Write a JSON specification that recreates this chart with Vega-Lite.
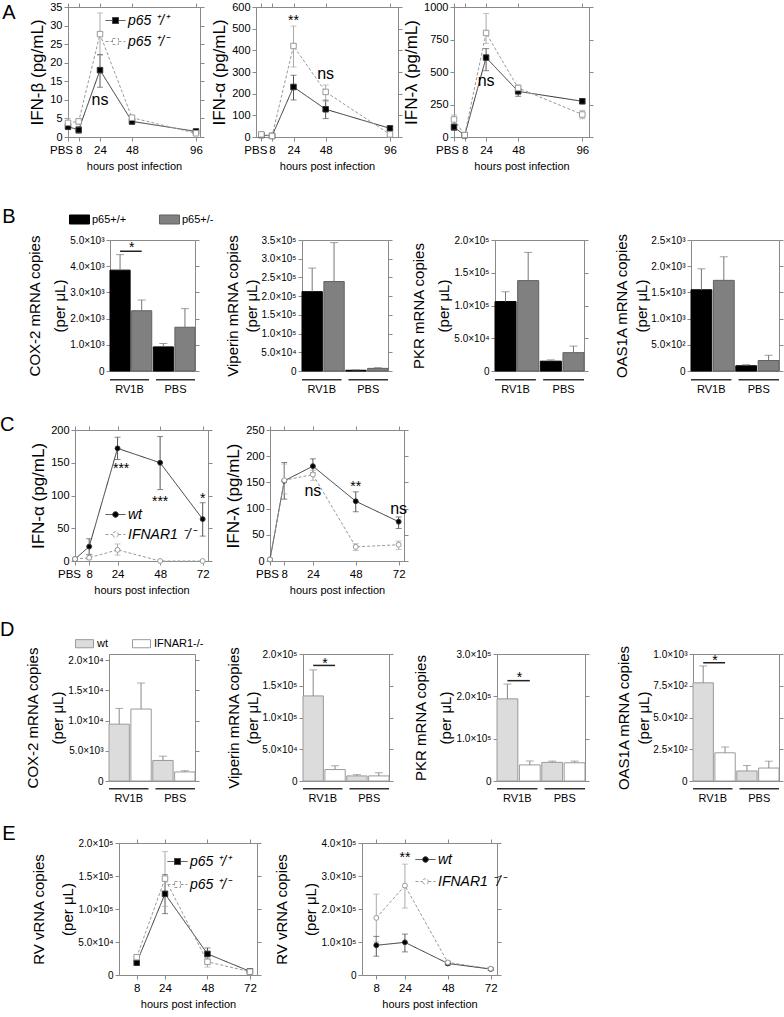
{
"$schema": "https://vega.github.io/schema/vega-lite/v6.json",
"padding": {"left": 0, "top": 0, "right": 0, "bottom": 0},
"background": "white",
"config": {
  "font": "Liberation Sans",
  "view": {"stroke": "#8a8a8a", "strokeWidth": 1},
  "axis": {"domainColor": "#8a8a8a", "tickColor": "#8a8a8a", "tickSize": 4, "labelColor": "#000000", "titleColor": "#000000", "labelFont": "Liberation Sans", "titleFont": "Liberation Sans", "titleFontWeight": "normal", "grid": false, "labelFlush": false, "labelOverlap": false, "labelPadding": 2},
  "axisX": {"labelFontSize": 11.5, "titleFontSize": 11, "titlePadding": 5, "labelPadding": 3},
  "axisY": {"labelFontSize": 11, "titleFontSize": 17, "titlePadding": 3},
  "legend": {"labelFont": "Liberation Sans", "labelColor": "#000000", "padding": 0},
  "title": {"font": "Liberation Sans", "fontWeight": "normal", "fontSize": 20, "color": "#000000"},
  "text": {"font": "Liberation Sans"}
},
"datasets": {
  "none": [{"k": 0}],
  "grp": [{"cond": "RV1B"}, {"cond": "PBS"}],
  "a1": [
    {"h": 0, "g": "p65 ⁺/⁺", "v": 2.8, "lo": 2.0, "hi": 3.6},
    {"h": 8, "g": "p65 ⁺/⁺", "v": 1.9, "lo": 1.0, "hi": 2.8},
    {"h": 24, "g": "p65 ⁺/⁺", "v": 18.0, "lo": 13.4, "hi": 22.2},
    {"h": 48, "g": "p65 ⁺/⁺", "v": 4.2, "lo": 3.4, "hi": 5.0},
    {"h": 96, "g": "p65 ⁺/⁺", "v": 1.5, "lo": 1.2, "hi": 1.8},
    {"h": 0, "g": "p65 ⁺/⁻", "v": 3.8, "lo": 2.5, "hi": 5.0},
    {"h": 8, "g": "p65 ⁺/⁻", "v": 4.2, "lo": 3.4, "hi": 5.0},
    {"h": 24, "g": "p65 ⁺/⁻", "v": 27.7, "lo": 22.0, "hi": 33.4},
    {"h": 48, "g": "p65 ⁺/⁻", "v": 5.2, "lo": 4.6, "hi": 5.8},
    {"h": 96, "g": "p65 ⁺/⁻", "v": 1.0, "lo": 0.7, "hi": 1.3}
  ],
  "a1n": [{"h": 24, "y": 10, "t": "ns"}],
  "a2": [
    {"h": 0, "g": "p65 ⁺/⁺", "v": 9, "lo": 5, "hi": 13},
    {"h": 8, "g": "p65 ⁺/⁺", "v": 5, "lo": 3, "hi": 7},
    {"h": 24, "g": "p65 ⁺/⁺", "v": 231, "lo": 171, "hi": 285},
    {"h": 48, "g": "p65 ⁺/⁺", "v": 128, "lo": 85, "hi": 170},
    {"h": 96, "g": "p65 ⁺/⁺", "v": 40, "lo": 32, "hi": 48},
    {"h": 0, "g": "p65 ⁺/⁻", "v": 12, "lo": 8, "hi": 16},
    {"h": 8, "g": "p65 ⁺/⁻", "v": 5, "lo": 3, "hi": 7},
    {"h": 24, "g": "p65 ⁺/⁻", "v": 420, "lo": 323, "hi": 512},
    {"h": 48, "g": "p65 ⁺/⁻", "v": 208, "lo": 165, "hi": 240},
    {"h": 96, "g": "p65 ⁺/⁻", "v": 12, "lo": 5, "hi": 20}
  ],
  "a2n": [{"h": 24, "y": 536, "t": "**"}, {"h": 48, "y": 290, "t": "ns"}],
  "a3": [
    {"h": 0, "g": "p65 ⁺/⁺", "v": 76, "lo": 50, "hi": 100},
    {"h": 8, "g": "p65 ⁺/⁺", "v": 13, "lo": 8, "hi": 18},
    {"h": 24, "g": "p65 ⁺/⁺", "v": 611, "lo": 510, "hi": 680},
    {"h": 48, "g": "p65 ⁺/⁺", "v": 351, "lo": 313, "hi": 385},
    {"h": 96, "g": "p65 ⁺/⁺", "v": 275, "lo": 255, "hi": 295},
    {"h": 0, "g": "p65 ⁺/⁻", "v": 135, "lo": 100, "hi": 170},
    {"h": 8, "g": "p65 ⁺/⁻", "v": 15, "lo": 10, "hi": 20},
    {"h": 24, "g": "p65 ⁺/⁻", "v": 800, "lo": 720, "hi": 950},
    {"h": 48, "g": "p65 ⁺/⁻", "v": 377, "lo": 350, "hi": 400},
    {"h": 96, "g": "p65 ⁺/⁻", "v": 173, "lo": 140, "hi": 205}
  ],
  "a3n": [{"h": 24, "y": 430, "t": "ns"}],
  "b1": [
    {"cond": "RV1B", "g": "p65+/+", "bar": "RV1B_1", "v": 3850, "hi": 4440},
    {"cond": "RV1B", "g": "p65+/-", "bar": "RV1B_2", "v": 2300, "hi": 2710},
    {"cond": "PBS", "g": "p65+/+", "bar": "PBS_1", "v": 920, "hi": 1050},
    {"cond": "PBS", "g": "p65+/-", "bar": "PBS_2", "v": 1670, "hi": 2380}
  ],
  "b1s": [{"b1": "RV1B_1", "b2": "RV1B_2", "y": 4570, "ys": 4690, "t": "*"}],
  "b2": [
    {"cond": "RV1B", "g": "p65+/+", "bar": "RV1B_1", "v": 212000, "hi": 275000},
    {"cond": "RV1B", "g": "p65+/-", "bar": "RV1B_2", "v": 239000, "hi": 343000},
    {"cond": "PBS", "g": "p65+/+", "bar": "PBS_1", "v": 2000, "hi": 3000},
    {"cond": "PBS", "g": "p65+/-", "bar": "PBS_2", "v": 7000, "hi": 9000}
  ],
  "b3": [
    {"cond": "RV1B", "g": "p65+/+", "bar": "RV1B_1", "v": 106000, "hi": 121000},
    {"cond": "RV1B", "g": "p65+/-", "bar": "RV1B_2", "v": 138000, "hi": 181000},
    {"cond": "PBS", "g": "p65+/+", "bar": "PBS_1", "v": 15000, "hi": 17000},
    {"cond": "PBS", "g": "p65+/-", "bar": "PBS_2", "v": 28000, "hi": 38000}
  ],
  "b4": [
    {"cond": "RV1B", "g": "p65+/+", "bar": "RV1B_1", "v": 1550, "hi": 1950},
    {"cond": "RV1B", "g": "p65+/-", "bar": "RV1B_2", "v": 1730, "hi": 2180},
    {"cond": "PBS", "g": "p65+/+", "bar": "PBS_1", "v": 100, "hi": 120},
    {"cond": "PBS", "g": "p65+/-", "bar": "PBS_2", "v": 200, "hi": 300}
  ],
  "c1": [
    {"h": 0, "g": "wt", "v": 3},
    {"h": 8, "g": "wt", "v": 22, "lo": 10, "hi": 34},
    {"h": 24, "g": "wt", "v": 172, "lo": 155, "hi": 189},
    {"h": 48, "g": "wt", "v": 150, "lo": 109, "hi": 190},
    {"h": 72, "g": "wt", "v": 64, "lo": 38, "hi": 89},
    {"h": 0, "g": "IFNAR1 ⁻/⁻", "v": 3},
    {"h": 8, "g": "IFNAR1 ⁻/⁻", "v": 5, "lo": 2, "hi": 9},
    {"h": 24, "g": "IFNAR1 ⁻/⁻", "v": 17, "lo": 9, "hi": 26},
    {"h": 48, "g": "IFNAR1 ⁻/⁻", "v": 0},
    {"h": 72, "g": "IFNAR1 ⁻/⁻", "v": 0}
  ],
  "c1n": [{"h": 26, "y": 140, "t": "***"}, {"h": 48, "y": 90, "t": "***"}, {"h": 72, "y": 95, "t": "*"}],
  "c2": [
    {"h": 0, "g": "wt", "v": 3},
    {"h": 8, "g": "wt", "v": 153, "lo": 118, "hi": 188},
    {"h": 24, "g": "wt", "v": 181, "lo": 168, "hi": 195},
    {"h": 48, "g": "wt", "v": 114, "lo": 94, "hi": 132},
    {"h": 72, "g": "wt", "v": 75, "lo": 62, "hi": 84},
    {"h": 0, "g": "IFNAR1 ⁻/⁻", "v": 3},
    {"h": 8, "g": "IFNAR1 ⁻/⁻", "v": 154, "lo": 128, "hi": 185},
    {"h": 24, "g": "IFNAR1 ⁻/⁻", "v": 165, "lo": 154, "hi": 173},
    {"h": 48, "g": "IFNAR1 ⁻/⁻", "v": 27, "lo": 20, "hi": 33},
    {"h": 72, "g": "IFNAR1 ⁻/⁻", "v": 31, "lo": 22, "hi": 38}
  ],
  "c2n": [{"h": 24, "y": 134, "t": "ns"}, {"h": 48, "y": 141, "t": "**"}, {"h": 72, "y": 100, "t": "ns"}],
  "d1": [
    {"cond": "RV1B", "g": "wt", "bar": "RV1B_1", "v": 9400, "hi": 12000},
    {"cond": "RV1B", "g": "IFNAR1-/-", "bar": "RV1B_2", "v": 11900, "hi": 16200},
    {"cond": "PBS", "g": "wt", "bar": "PBS_1", "v": 3400, "hi": 4100},
    {"cond": "PBS", "g": "IFNAR1-/-", "bar": "PBS_2", "v": 1500, "hi": 1700}
  ],
  "d2": [
    {"cond": "RV1B", "g": "wt", "bar": "RV1B_1", "v": 134000, "hi": 175000},
    {"cond": "RV1B", "g": "IFNAR1-/-", "bar": "RV1B_2", "v": 18000, "hi": 24000},
    {"cond": "PBS", "g": "wt", "bar": "PBS_1", "v": 8000, "hi": 10000},
    {"cond": "PBS", "g": "IFNAR1-/-", "bar": "PBS_2", "v": 8000, "hi": 13000}
  ],
  "d2s": [{"b1": "RV1B_1", "b2": "RV1B_2", "y": 182000, "ys": 185000, "t": "*"}],
  "d3": [
    {"cond": "RV1B", "g": "wt", "bar": "RV1B_1", "v": 194000, "hi": 229000},
    {"cond": "RV1B", "g": "IFNAR1-/-", "bar": "RV1B_2", "v": 38000, "hi": 47000},
    {"cond": "PBS", "g": "wt", "bar": "PBS_1", "v": 44000, "hi": 47000},
    {"cond": "PBS", "g": "IFNAR1-/-", "bar": "PBS_2", "v": 43000, "hi": 47000}
  ],
  "d3s": [{"b1": "RV1B_1", "b2": "RV1B_2", "y": 237000, "ys": 244000, "t": "*"}],
  "d4": [
    {"cond": "RV1B", "g": "wt", "bar": "RV1B_1", "v": 773, "hi": 906},
    {"cond": "RV1B", "g": "IFNAR1-/-", "bar": "RV1B_2", "v": 222, "hi": 268},
    {"cond": "PBS", "g": "wt", "bar": "PBS_1", "v": 79, "hi": 122},
    {"cond": "PBS", "g": "IFNAR1-/-", "bar": "PBS_2", "v": 102, "hi": 156}
  ],
  "d4s": [{"b1": "RV1B_1", "b2": "RV1B_2", "y": 931, "ys": 941, "t": "*"}],
  "e1": [
    {"h": 8, "g": "p65 ⁺/⁺", "v": 18700, "lo": 14500, "hi": 22500},
    {"h": 24, "g": "p65 ⁺/⁺", "v": 123000, "lo": 93000, "hi": 152000},
    {"h": 48, "g": "p65 ⁺/⁺", "v": 32000, "lo": 24000, "hi": 41000},
    {"h": 72, "g": "p65 ⁺/⁺", "v": 5500, "lo": 3500, "hi": 7500},
    {"h": 8, "g": "p65 ⁺/⁻", "v": 27000, "lo": 24000, "hi": 30000},
    {"h": 24, "g": "p65 ⁺/⁻", "v": 146000, "lo": 104000, "hi": 187000},
    {"h": 48, "g": "p65 ⁺/⁻", "v": 20000, "lo": 12000, "hi": 27000},
    {"h": 72, "g": "p65 ⁺/⁻", "v": 5000, "lo": 3500, "hi": 6500}
  ],
  "e2": [
    {"h": 8, "g": "wt", "v": 90000, "lo": 57000, "hi": 117000},
    {"h": 24, "g": "wt", "v": 99000, "lo": 70000, "hi": 124000},
    {"h": 48, "g": "wt", "v": 35000, "lo": 30000, "hi": 40000},
    {"h": 72, "g": "wt", "v": 18000, "lo": 14000, "hi": 22000},
    {"h": 8, "g": "IFNAR1 ⁻/⁻", "v": 173000, "lo": 100000, "hi": 245000},
    {"h": 24, "g": "IFNAR1 ⁻/⁻", "v": 271000, "lo": 203000, "hi": 336000},
    {"h": 48, "g": "IFNAR1 ⁻/⁻", "v": 38000, "lo": 33000, "hi": 43000},
    {"h": 72, "g": "IFNAR1 ⁻/⁻", "v": 19000, "lo": 15000, "hi": 23000}
  ],
  "e2n": [{"h": 24, "y": 356000, "t": "**"}]
},
"spacing": 35,
"resolve": {"scale": {"fill": "independent", "stroke": "independent", "strokeDash": "independent"}, "legend": {"fill": "independent", "stroke": "independent", "strokeDash": "independent"}},
"vconcat": [
{"hconcat": [
 {"width": 37, "height": 10, "view": {"stroke": null}, "data": {"name": "none"}, "mark": {"type": "point", "opacity": 0},
  "title": {"text": "A", "orient": "left", "anchor": "end", "angle": 0, "align": "right", "baseline": "top", "frame": "group", "offset": 2, "dy": -4}},
 {"hconcat": [
  {"width": 132, "height": 130,
   "resolve": {"axis": {"x": "independent", "y": "independent"}},
   "layer": [
    {"data": {"name": "a1"}, "mark": {"type": "line", "strokeWidth": 1},
     "encoding": {
      "x": {"field": "h", "type": "quantitative", "scale": {"domain": [0, 99], "nice": false, "zero": false}, "axis": {"orient": "bottom", "values": [0, 8, 24, 48, 96], "labelExpr": "datum.value == 0 ? 'PBS' : datum.label", "labelOffset": {"condition": {"test": "datum.value == 0", "value": -7}, "value": 0}, "title": "hours post infection"}},
      "y": {"field": "v", "type": "quantitative", "scale": {"domain": [0, 35], "nice": false}, "axis": {"orient": "left", "values": [0, 5, 10, 15, 20, 25, 30, 35], "title": "IFN-β (pg/mL)"}},
      "stroke": {"field": "g", "type": "nominal", "scale": {"domain": ["p65 ⁺/⁺", "p65 ⁺/⁻"], "range": ["#333333", "#999999"]}, "legend": {"title": null, "orient": "none", "legendX": 37, "legendY": 3, "symbolType": "M-1,0H-0.3M0.3,0H1M-0.3,-0.3H0.3V0.3H-0.3Z", "symbolSize": 400, "symbolStrokeWidth": 1, "labelFontSize": 14, "labelFontStyle": "italic", "labelOffset": 2, "rowPadding": 3}},
      "strokeDash": {"field": "g", "type": "nominal", "scale": {"domain": ["p65 ⁺/⁺", "p65 ⁺/⁻"], "range": [[1, 0], [3, 2]]}, "legend": {"title": null, "orient": "none", "legendX": 37, "legendY": 3, "symbolType": "M-1,0H-0.3M0.3,0H1M-0.3,-0.3H0.3V0.3H-0.3Z", "symbolSize": 400, "symbolStrokeWidth": 1, "labelFontSize": 14, "labelFontStyle": "italic", "labelOffset": 2, "rowPadding": 3}}
     }},
    {"data": {"name": "a1"}, "mark": {"type": "rule", "strokeWidth": 1},
     "encoding": {
      "x": {"field": "h", "type": "quantitative", "axis": {"orient": "top", "values": [0, 8, 24, 48, 96], "labels": false, "title": null}},
      "y": {"field": "lo", "type": "quantitative", "axis": {"orient": "right", "values": [0, 5, 10, 15, 20, 25, 30, 35], "labels": false, "title": null}},
      "y2": {"field": "hi"},
      "color": {"condition": {"test": "datum.g == 'wt' || datum.g == 'p65 ⁺/⁺'", "value": "#555555"}, "value": "#aaaaaa"}
     }},
    {"data": {"name": "a1"}, "mark": {"type": "tick", "orient": "horizontal", "size": 6, "thickness": 1},
     "encoding": {"x": {"field": "h", "type": "quantitative", "axis": null}, "y": {"field": "lo", "type": "quantitative", "axis": null}, "color": {"condition": {"test": "datum.g == 'wt' || datum.g == 'p65 ⁺/⁺'", "value": "#555555"}, "value": "#aaaaaa"}}},
    {"data": {"name": "a1"}, "mark": {"type": "tick", "orient": "horizontal", "size": 6, "thickness": 1},
     "encoding": {"x": {"field": "h", "type": "quantitative", "axis": null}, "y": {"field": "hi", "type": "quantitative", "axis": null}, "color": {"condition": {"test": "datum.g == 'wt' || datum.g == 'p65 ⁺/⁺'", "value": "#555555"}, "value": "#aaaaaa"}}},
    {"data": {"name": "a1"}, "mark": {"type": "point", "shape": "square", "filled": true, "size": 30, "strokeWidth": 1, "opacity": 1},
     "encoding": {"x": {"field": "h", "type": "quantitative", "axis": null}, "y": {"field": "v", "type": "quantitative", "axis": null},
      "fill": {"field": "g", "type": "nominal", "scale": {"domain": ["p65 ⁺/⁺", "p65 ⁺/⁻"], "range": ["#000000", "#ffffff"]}, "legend": {"title": null, "orient": "none", "legendX": 37, "legendY": 3, "symbolType": "M-1,0H-0.3M0.3,0H1M-0.3,-0.3H0.3V0.3H-0.3Z", "symbolSize": 400, "symbolStrokeWidth": 1, "labelFontSize": 14, "labelFontStyle": "italic", "labelOffset": 2, "rowPadding": 3}},
      "stroke": {"field": "g", "type": "nominal", "legend": {"title": null, "orient": "none", "legendX": 37, "legendY": 3, "symbolType": "M-1,0H-0.3M0.3,0H1M-0.3,-0.3H0.3V0.3H-0.3Z", "symbolSize": 400, "symbolStrokeWidth": 1, "labelFontSize": 14, "labelFontStyle": "italic", "labelOffset": 2, "rowPadding": 3}}}},
    {"data": {"name": "a1n"}, "mark": {"type": "text", "baseline": "middle"},
     "encoding": {"x": {"field": "h", "type": "quantitative", "axis": null}, "y": {"field": "y", "type": "quantitative", "axis": null}, "text": {"field": "t", "type": "nominal"}, "size": {"condition": {"test": "datum.t == 'ns'", "value": 16}, "value": 14}}}
   ]},
  {"width": 142, "height": 130,
   "resolve": {"axis": {"x": "independent", "y": "independent"}},
   "layer": [
    {"data": {"name": "a2"}, "mark": {"type": "line", "strokeWidth": 1},
     "encoding": {
      "x": {"field": "h", "type": "quantitative", "scale": {"domain": [-4, 102], "nice": false, "zero": false}, "axis": {"orient": "bottom", "values": [0, 8, 24, 48, 96], "labelExpr": "datum.value == 0 ? 'PBS' : datum.label", "labelOffset": {"condition": {"test": "datum.value == 0", "value": -6}, "value": 0}, "title": "hours post infection"}},
      "y": {"field": "v", "type": "quantitative", "scale": {"domain": [0, 600], "nice": false}, "axis": {"orient": "left", "values": [0, 100, 200, 300, 400, 500, 600], "title": "IFN-α (pg/mL)"}},
      "stroke": {"field": "g", "type": "nominal", "scale": {"domain": ["p65 ⁺/⁺", "p65 ⁺/⁻"], "range": ["#333333", "#999999"]}, "legend": null},
      "strokeDash": {"field": "g", "type": "nominal", "scale": {"domain": ["p65 ⁺/⁺", "p65 ⁺/⁻"], "range": [[1, 0], [3, 2]]}, "legend": null}
     }},
    {"data": {"name": "a2"}, "mark": {"type": "rule", "strokeWidth": 1},
     "encoding": {
      "x": {"field": "h", "type": "quantitative", "axis": {"orient": "top", "values": [0, 8, 24, 48, 96], "labels": false, "title": null}},
      "y": {"field": "lo", "type": "quantitative", "axis": {"orient": "right", "values": [0, 100, 200, 300, 400, 500, 600], "labels": false, "title": null}},
      "y2": {"field": "hi"},
      "color": {"condition": {"test": "datum.g == 'wt' || datum.g == 'p65 ⁺/⁺'", "value": "#555555"}, "value": "#aaaaaa"}
     }},
    {"data": {"name": "a2"}, "mark": {"type": "tick", "orient": "horizontal", "size": 6, "thickness": 1},
     "encoding": {"x": {"field": "h", "type": "quantitative", "axis": null}, "y": {"field": "lo", "type": "quantitative", "axis": null}, "color": {"condition": {"test": "datum.g == 'wt' || datum.g == 'p65 ⁺/⁺'", "value": "#555555"}, "value": "#aaaaaa"}}},
    {"data": {"name": "a2"}, "mark": {"type": "tick", "orient": "horizontal", "size": 6, "thickness": 1},
     "encoding": {"x": {"field": "h", "type": "quantitative", "axis": null}, "y": {"field": "hi", "type": "quantitative", "axis": null}, "color": {"condition": {"test": "datum.g == 'wt' || datum.g == 'p65 ⁺/⁺'", "value": "#555555"}, "value": "#aaaaaa"}}},
    {"data": {"name": "a2"}, "mark": {"type": "point", "shape": "square", "filled": true, "size": 30, "strokeWidth": 1, "opacity": 1},
     "encoding": {"x": {"field": "h", "type": "quantitative", "axis": null}, "y": {"field": "v", "type": "quantitative", "axis": null},
      "fill": {"field": "g", "type": "nominal", "scale": {"domain": ["p65 ⁺/⁺", "p65 ⁺/⁻"], "range": ["#000000", "#ffffff"]}, "legend": null},
      "stroke": {"field": "g", "type": "nominal", "legend": null}}},
    {"data": {"name": "a2n"}, "mark": {"type": "text", "baseline": "middle"},
     "encoding": {"x": {"field": "h", "type": "quantitative", "axis": null}, "y": {"field": "y", "type": "quantitative", "axis": null}, "text": {"field": "t", "type": "nominal"}, "size": {"condition": {"test": "datum.t == 'ns'", "value": 16}, "value": 14}}}
   ]},
  {"width": 135, "height": 130,
   "resolve": {"axis": {"x": "independent", "y": "independent"}},
   "layer": [
    {"data": {"name": "a3"}, "mark": {"type": "line", "strokeWidth": 1},
     "encoding": {
      "x": {"field": "h", "type": "quantitative", "scale": {"domain": [0, 101], "nice": false, "zero": false}, "axis": {"orient": "bottom", "values": [0, 8, 24, 48, 96], "labelExpr": "datum.value == 0 ? 'PBS' : datum.label", "labelOffset": {"condition": {"test": "datum.value == 0", "value": -7}, "value": 0}, "title": "hours post infection"}},
      "y": {"field": "v", "type": "quantitative", "scale": {"domain": [0, 1000], "nice": false}, "axis": {"orient": "left", "values": [0, 250, 500, 750, 1000], "format": "d", "title": "IFN-λ (pg/mL)"}},
      "stroke": {"field": "g", "type": "nominal", "scale": {"domain": ["p65 ⁺/⁺", "p65 ⁺/⁻"], "range": ["#333333", "#999999"]}, "legend": null},
      "strokeDash": {"field": "g", "type": "nominal", "scale": {"domain": ["p65 ⁺/⁺", "p65 ⁺/⁻"], "range": [[1, 0], [3, 2]]}, "legend": null}
     }},
    {"data": {"name": "a3"}, "mark": {"type": "rule", "strokeWidth": 1},
     "encoding": {
      "x": {"field": "h", "type": "quantitative", "axis": {"orient": "top", "values": [0, 8, 24, 48, 96], "labels": false, "title": null}},
      "y": {"field": "lo", "type": "quantitative", "axis": {"orient": "right", "values": [0, 250, 500, 750, 1000], "labels": false, "title": null}},
      "y2": {"field": "hi"},
      "color": {"condition": {"test": "datum.g == 'wt' || datum.g == 'p65 ⁺/⁺'", "value": "#555555"}, "value": "#aaaaaa"}
     }},
    {"data": {"name": "a3"}, "mark": {"type": "tick", "orient": "horizontal", "size": 6, "thickness": 1},
     "encoding": {"x": {"field": "h", "type": "quantitative", "axis": null}, "y": {"field": "lo", "type": "quantitative", "axis": null}, "color": {"condition": {"test": "datum.g == 'wt' || datum.g == 'p65 ⁺/⁺'", "value": "#555555"}, "value": "#aaaaaa"}}},
    {"data": {"name": "a3"}, "mark": {"type": "tick", "orient": "horizontal", "size": 6, "thickness": 1},
     "encoding": {"x": {"field": "h", "type": "quantitative", "axis": null}, "y": {"field": "hi", "type": "quantitative", "axis": null}, "color": {"condition": {"test": "datum.g == 'wt' || datum.g == 'p65 ⁺/⁺'", "value": "#555555"}, "value": "#aaaaaa"}}},
    {"data": {"name": "a3"}, "mark": {"type": "point", "shape": "square", "filled": true, "size": 30, "strokeWidth": 1, "opacity": 1},
     "encoding": {"x": {"field": "h", "type": "quantitative", "axis": null}, "y": {"field": "v", "type": "quantitative", "axis": null},
      "fill": {"field": "g", "type": "nominal", "scale": {"domain": ["p65 ⁺/⁺", "p65 ⁺/⁻"], "range": ["#000000", "#ffffff"]}, "legend": null},
      "stroke": {"field": "g", "type": "nominal", "legend": null}}},
    {"data": {"name": "a3n"}, "mark": {"type": "text", "baseline": "middle"},
     "encoding": {"x": {"field": "h", "type": "quantitative", "axis": null}, "y": {"field": "y", "type": "quantitative", "axis": null}, "text": {"field": "t", "type": "nominal"}, "size": {"condition": {"test": "datum.t == 'ns'", "value": 16}, "value": 14}}}
   ]}
 ], "bounds": "flush", "spacing": 56, "resolve": {"scale": {"fill": "independent", "stroke": "independent", "strokeDash": "independent"}, "legend": {"fill": "independent", "stroke": "independent", "strokeDash": "independent"}}}
], "bounds": "flush", "spacing": 0, "resolve": {"scale": {"fill": "independent", "stroke": "independent", "strokeDash": "independent"}, "legend": {"fill": "independent", "stroke": "independent", "strokeDash": "independent"}}},
{"spacing": 20, "resolve": {"scale": {"fill": "independent", "stroke": "independent", "strokeDash": "independent"}, "legend": {"fill": "independent", "stroke": "independent", "strokeDash": "independent"}}, "vconcat": [
 {"hconcat": [
  {"width": 79, "height": 10, "view": {"stroke": null}, "data": {"name": "none"}, "mark": {"type": "point", "opacity": 0},
   "title": {"text": "B", "orient": "left", "anchor": "end", "angle": 0, "align": "right", "baseline": "top", "frame": "group", "offset": 2, "dy": -33}},
  {"hconcat": [
  {"width": 85, "height": 131,
   "resolve": {"scale": {"x": "independent"}, "axis": {"x": "independent", "y": "independent"}},
   "layer": [
    {"resolve": {"axis": {"y": "independent"}},
     "layer": [
      {"data": {"name": "b1"}, "mark": {"type": "bar", "strokeWidth": 1},
       "encoding": {
        "x": {"field": "bar", "type": "nominal", "scale": {"domain": ["RV1B_1", "RV1B_2", "PBS_1", "PBS_2"], "paddingInner": 0.07, "paddingOuter": 0}, "axis": null},
        "y": {"field": "v", "type": "quantitative", "stack": null, "scale": {"domain": [0, 5000], "nice": false}, "axis": {"orient": "left", "values": [0, 1000, 2000, 3000, 4000, 5000], "labelExpr": "datum.value == 0 ? '0' : format(datum.value / pow(10, floor(log(datum.value) / LN10 + 1e-9)), '.1f') + '×10' + ['⁰','¹','²','³','⁴','⁵','⁶'][floor(log(datum.value) / LN10 + 1e-9)]", "labelFontSize": 10, "title": ["COX-2 mRNA copies", "(per μL)"], "titleFontSize": 15, "titleLineHeight": 25, "titlePadding": 2}},
        "fill": {"field": "g", "type": "nominal", "scale": {"domain": ["p65+/+", "p65+/-"], "range": ["#000000", "#808080"]}, "legend": {"title": null, "orient": "none", "legendX": -41, "legendY": -31, "direction": "horizontal", "symbolType": "M-1,-0.45H1V0.45H-1Z", "symbolSize": 400, "symbolStrokeWidth": 1, "labelFontSize": 11, "labelOffset": 2, "columnPadding": 30}},
        "stroke": {"field": "g", "type": "nominal", "scale": {"domain": ["p65+/+", "p65+/-"], "range": ["#000000", "#606060"]}, "legend": {"title": null, "orient": "none", "legendX": -41, "legendY": -31, "direction": "horizontal", "symbolType": "M-1,-0.45H1V0.45H-1Z", "symbolSize": 400, "symbolStrokeWidth": 1, "labelFontSize": 11, "labelOffset": 2, "columnPadding": 30}}
       }},
      {"data": {"name": "b1"}, "mark": {"type": "rule", "color": "#777777"},
       "encoding": {"x": {"field": "bar", "type": "nominal", "axis": null}, "y": {"field": "v", "type": "quantitative", "axis": {"orient": "right", "values": [0, 1000, 2000, 3000, 4000, 5000], "labels": false, "title": null}}, "y2": {"field": "hi"}}},
      {"data": {"name": "b1"}, "mark": {"type": "tick", "orient": "horizontal", "size": 8, "thickness": 1, "color": "#777777"},
       "encoding": {"x": {"field": "bar", "type": "nominal", "axis": null}, "y": {"field": "hi", "type": "quantitative", "axis": null}}},
      {"data": {"name": "b1s"}, "mark": {"type": "rule", "strokeWidth": 1.5, "color": "#222222"},
       "encoding": {"x": {"field": "b1", "type": "nominal", "axis": null}, "x2": {"field": "b2"}, "y": {"field": "y", "type": "quantitative", "axis": null}}},
      {"data": {"name": "b1s"}, "mark": {"type": "text", "fontSize": 14, "baseline": "middle"},
       "encoding": {"x": {"field": "b2", "type": "nominal", "bandPosition": 0, "axis": null}, "y": {"field": "ys", "type": "quantitative", "axis": null}, "text": {"field": "t", "type": "nominal"}}}
     ]},
    {"data": {"name": "grp"}, "mark": {"type": "bar", "color": "#333333", "yOffset": 8, "y2Offset": 9.5},
     "encoding": {
      "x": {"field": "cond", "type": "nominal", "scale": {"domain": ["RV1B", "PBS"], "paddingInner": 0.15, "paddingOuter": 0}, "axis": {"orient": "bottom", "title": null, "domain": false, "ticks": false, "tickSize": 0, "labelPadding": 12, "labelFontSize": 11, "labelAngle": 0}},
      "y": {"datum": 0, "type": "quantitative", "axis": null},
      "y2": {"datum": 0}
     }}
   ]},
  {"width": 86, "height": 131,
   "resolve": {"scale": {"x": "independent"}, "axis": {"x": "independent", "y": "independent"}},
   "layer": [
    {"resolve": {"axis": {"y": "independent"}},
     "layer": [
      {"data": {"name": "b2"}, "mark": {"type": "bar", "strokeWidth": 1},
       "encoding": {
        "x": {"field": "bar", "type": "nominal", "scale": {"domain": ["RV1B_1", "RV1B_2", "PBS_1", "PBS_2"], "paddingInner": 0.07, "paddingOuter": 0}, "axis": null},
        "y": {"field": "v", "type": "quantitative", "stack": null, "scale": {"domain": [0, 350000], "nice": false}, "axis": {"orient": "left", "values": [0, 50000, 100000, 150000, 200000, 250000, 300000, 350000], "labelExpr": "datum.value == 0 ? '0' : format(datum.value / pow(10, floor(log(datum.value) / LN10 + 1e-9)), '.1f') + '×10' + ['⁰','¹','²','³','⁴','⁵','⁶'][floor(log(datum.value) / LN10 + 1e-9)]", "labelFontSize": 10, "title": ["Viperin mRNA copies", "(per μL)"], "titleFontSize": 15, "titleLineHeight": 19, "titlePadding": 1}},
        "fill": {"field": "g", "type": "nominal", "scale": {"domain": ["p65+/+", "p65+/-"], "range": ["#000000", "#808080"]}, "legend": null},
        "stroke": {"field": "g", "type": "nominal", "scale": {"domain": ["p65+/+", "p65+/-"], "range": ["#000000", "#606060"]}, "legend": null}
       }},
      {"data": {"name": "b2"}, "mark": {"type": "rule", "color": "#777777"},
       "encoding": {"x": {"field": "bar", "type": "nominal", "axis": null}, "y": {"field": "v", "type": "quantitative", "axis": {"orient": "right", "values": [0, 50000, 100000, 150000, 200000, 250000, 300000, 350000], "labels": false, "title": null}}, "y2": {"field": "hi"}}},
      {"data": {"name": "b2"}, "mark": {"type": "tick", "orient": "horizontal", "size": 8, "thickness": 1, "color": "#777777"},
       "encoding": {"x": {"field": "bar", "type": "nominal", "axis": null}, "y": {"field": "hi", "type": "quantitative", "axis": null}}}
     ]},
    {"data": {"name": "grp"}, "mark": {"type": "bar", "color": "#333333", "yOffset": 8, "y2Offset": 9.5},
     "encoding": {
      "x": {"field": "cond", "type": "nominal", "scale": {"domain": ["RV1B", "PBS"], "paddingInner": 0.15, "paddingOuter": 0}, "axis": {"orient": "bottom", "title": null, "domain": false, "ticks": false, "tickSize": 0, "labelPadding": 12, "labelFontSize": 11, "labelAngle": 0}},
      "y": {"datum": 0, "type": "quantitative", "axis": null},
      "y2": {"datum": 0}
     }}
   ]},
  {"width": 89, "height": 131,
   "resolve": {"scale": {"x": "independent"}, "axis": {"x": "independent", "y": "independent"}},
   "layer": [
    {"resolve": {"axis": {"y": "independent"}},
     "layer": [
      {"data": {"name": "b3"}, "mark": {"type": "bar", "strokeWidth": 1},
       "encoding": {
        "x": {"field": "bar", "type": "nominal", "scale": {"domain": ["RV1B_1", "RV1B_2", "PBS_1", "PBS_2"], "paddingInner": 0.07, "paddingOuter": 0}, "axis": null},
        "y": {"field": "v", "type": "quantitative", "stack": null, "scale": {"domain": [0, 200000], "nice": false}, "axis": {"orient": "left", "values": [0, 50000, 100000, 150000, 200000], "labelExpr": "datum.value == 0 ? '0' : format(datum.value / pow(10, floor(log(datum.value) / LN10 + 1e-9)), '.1f') + '×10' + ['⁰','¹','²','³','⁴','⁵','⁶'][floor(log(datum.value) / LN10 + 1e-9)]", "labelFontSize": 10, "title": ["PKR mRNA copies", "(per μL)"], "titleFontSize": 15, "titleLineHeight": 25, "titlePadding": 2}},
        "fill": {"field": "g", "type": "nominal", "scale": {"domain": ["p65+/+", "p65+/-"], "range": ["#000000", "#808080"]}, "legend": null},
        "stroke": {"field": "g", "type": "nominal", "scale": {"domain": ["p65+/+", "p65+/-"], "range": ["#000000", "#606060"]}, "legend": null}
       }},
      {"data": {"name": "b3"}, "mark": {"type": "rule", "color": "#777777"},
       "encoding": {"x": {"field": "bar", "type": "nominal", "axis": null}, "y": {"field": "v", "type": "quantitative", "axis": {"orient": "right", "values": [0, 50000, 100000, 150000, 200000], "labels": false, "title": null}}, "y2": {"field": "hi"}}},
      {"data": {"name": "b3"}, "mark": {"type": "tick", "orient": "horizontal", "size": 8, "thickness": 1, "color": "#777777"},
       "encoding": {"x": {"field": "bar", "type": "nominal", "axis": null}, "y": {"field": "hi", "type": "quantitative", "axis": null}}}
     ]},
    {"data": {"name": "grp"}, "mark": {"type": "bar", "color": "#333333", "yOffset": 8, "y2Offset": 9.5},
     "encoding": {
      "x": {"field": "cond", "type": "nominal", "scale": {"domain": ["RV1B", "PBS"], "paddingInner": 0.15, "paddingOuter": 0}, "axis": {"orient": "bottom", "title": null, "domain": false, "ticks": false, "tickSize": 0, "labelPadding": 12, "labelFontSize": 11, "labelAngle": 0}},
      "y": {"datum": 0, "type": "quantitative", "axis": null},
      "y2": {"datum": 0}
     }}
   ]},
  {"width": 88, "height": 131,
   "resolve": {"scale": {"x": "independent"}, "axis": {"x": "independent", "y": "independent"}},
   "layer": [
    {"resolve": {"axis": {"y": "independent"}},
     "layer": [
      {"data": {"name": "b4"}, "mark": {"type": "bar", "strokeWidth": 1},
       "encoding": {
        "x": {"field": "bar", "type": "nominal", "scale": {"domain": ["RV1B_1", "RV1B_2", "PBS_1", "PBS_2"], "paddingInner": 0.07, "paddingOuter": 0}, "axis": null},
        "y": {"field": "v", "type": "quantitative", "stack": null, "scale": {"domain": [0, 2500], "nice": false}, "axis": {"orient": "left", "values": [0, 500, 1000, 1500, 2000, 2500], "labelExpr": "datum.value == 0 ? '0' : format(datum.value / pow(10, floor(log(datum.value) / LN10 + 1e-9)), '.1f') + '×10' + ['⁰','¹','²','³','⁴','⁵','⁶'][floor(log(datum.value) / LN10 + 1e-9)]", "labelFontSize": 10, "title": ["OAS1A mRNA copies", "(per μL)"], "titleFontSize": 15, "titleLineHeight": 20, "titlePadding": 1}},
        "fill": {"field": "g", "type": "nominal", "scale": {"domain": ["p65+/+", "p65+/-"], "range": ["#000000", "#808080"]}, "legend": null},
        "stroke": {"field": "g", "type": "nominal", "scale": {"domain": ["p65+/+", "p65+/-"], "range": ["#000000", "#606060"]}, "legend": null}
       }},
      {"data": {"name": "b4"}, "mark": {"type": "rule", "color": "#777777"},
       "encoding": {"x": {"field": "bar", "type": "nominal", "axis": null}, "y": {"field": "v", "type": "quantitative", "axis": {"orient": "right", "values": [0, 500, 1000, 1500, 2000, 2500], "labels": false, "title": null}}, "y2": {"field": "hi"}}},
      {"data": {"name": "b4"}, "mark": {"type": "tick", "orient": "horizontal", "size": 8, "thickness": 1, "color": "#777777"},
       "encoding": {"x": {"field": "bar", "type": "nominal", "axis": null}, "y": {"field": "hi", "type": "quantitative", "axis": null}}}
     ]},
    {"data": {"name": "grp"}, "mark": {"type": "bar", "color": "#333333", "yOffset": 8, "y2Offset": 9.5},
     "encoding": {
      "x": {"field": "cond", "type": "nominal", "scale": {"domain": ["RV1B", "PBS"], "paddingInner": 0.15, "paddingOuter": 0}, "axis": {"orient": "bottom", "title": null, "domain": false, "ticks": false, "tickSize": 0, "labelPadding": 12, "labelFontSize": 11, "labelAngle": 0}},
      "y": {"datum": 0, "type": "quantitative", "axis": null},
      "y2": {"datum": 0}
     }}
   ]}
  ], "bounds": "flush", "spacing": 107, "resolve": {"scale": {"fill": "independent", "stroke": "independent", "strokeDash": "independent"}, "legend": {"fill": "independent", "stroke": "independent", "strokeDash": "independent"}}}
 ], "bounds": "flush", "spacing": 0, "resolve": {"scale": {"fill": "independent", "stroke": "independent", "strokeDash": "independent"}, "legend": {"fill": "independent", "stroke": "independent", "strokeDash": "independent"}}},
 {"spacing": 24, "resolve": {"scale": {"fill": "independent", "stroke": "independent", "strokeDash": "independent"}, "legend": {"fill": "independent", "stroke": "independent", "strokeDash": "independent"}}, "vconcat": [
  {"hconcat": [
   {"width": 44, "height": 10, "view": {"stroke": null}, "data": {"name": "none"}, "mark": {"type": "point", "opacity": 0},
    "title": {"text": "C", "orient": "left", "anchor": "end", "angle": 0, "align": "right", "baseline": "top", "frame": "group", "offset": 2, "dy": -15}},
   {"hconcat": [
   {"width": 133, "height": 131,
    "resolve": {"axis": {"x": "independent", "y": "independent"}},
    "layer": [
     {"data": {"name": "c1"}, "mark": {"type": "line", "strokeWidth": 1},
      "encoding": {
       "x": {"field": "h", "type": "quantitative", "scale": {"domain": [0, 75], "nice": false, "zero": false}, "axis": {"orient": "bottom", "values": [0, 8, 24, 48, 72], "labelExpr": "datum.value == 0 ? 'PBS' : datum.label", "labelOffset": {"condition": {"test": "datum.value == 0", "value": -6}, "value": 0}, "title": "hours post infection"}},
       "y": {"field": "v", "type": "quantitative", "scale": {"domain": [0, 200], "nice": false}, "axis": {"orient": "left", "values": [0, 50, 100, 150, 200], "title": "IFN-α (pg/mL)"}},
       "stroke": {"field": "g", "type": "nominal", "scale": {"domain": ["wt", "IFNAR1 ⁻/⁻"], "range": ["#333333", "#999999"]}, "legend": {"title": null, "orient": "none", "legendX": 30, "legendY": 74, "symbolType": "M-1,0H-0.28M0.28,0H1M0.28,0A0.28,0.28,0,1,1,-0.28,0A0.28,0.28,0,1,1,0.28,0Z", "symbolSize": 400, "symbolStrokeWidth": 1, "labelFontSize": 14, "labelFontStyle": "italic", "labelOffset": 2, "rowPadding": 2}},
       "strokeDash": {"field": "g", "type": "nominal", "scale": {"domain": ["wt", "IFNAR1 ⁻/⁻"], "range": [[1, 0], [3, 2]]}, "legend": {"title": null, "orient": "none", "legendX": 30, "legendY": 74, "symbolType": "M-1,0H-0.28M0.28,0H1M0.28,0A0.28,0.28,0,1,1,-0.28,0A0.28,0.28,0,1,1,0.28,0Z", "symbolSize": 400, "symbolStrokeWidth": 1, "labelFontSize": 14, "labelFontStyle": "italic", "labelOffset": 2, "rowPadding": 2}}
      }},
     {"data": {"name": "c1"}, "mark": {"type": "rule", "strokeWidth": 1},
      "encoding": {
       "x": {"field": "h", "type": "quantitative", "axis": {"orient": "top", "values": [0, 8, 24, 48, 72], "labels": false, "title": null}},
       "y": {"field": "lo", "type": "quantitative", "axis": {"orient": "right", "values": [0, 50, 100, 150, 200], "labels": false, "title": null}},
       "y2": {"field": "hi"},
       "color": {"condition": {"test": "datum.g == 'wt' || datum.g == 'p65 ⁺/⁺'", "value": "#555555"}, "value": "#aaaaaa"}
      }},
     {"data": {"name": "c1"}, "mark": {"type": "tick", "orient": "horizontal", "size": 6, "thickness": 1},
      "encoding": {"x": {"field": "h", "type": "quantitative", "axis": null}, "y": {"field": "lo", "type": "quantitative", "axis": null}, "color": {"condition": {"test": "datum.g == 'wt' || datum.g == 'p65 ⁺/⁺'", "value": "#555555"}, "value": "#aaaaaa"}}},
     {"data": {"name": "c1"}, "mark": {"type": "tick", "orient": "horizontal", "size": 6, "thickness": 1},
      "encoding": {"x": {"field": "h", "type": "quantitative", "axis": null}, "y": {"field": "hi", "type": "quantitative", "axis": null}, "color": {"condition": {"test": "datum.g == 'wt' || datum.g == 'p65 ⁺/⁺'", "value": "#555555"}, "value": "#aaaaaa"}}},
     {"data": {"name": "c1"}, "mark": {"type": "point", "shape": "circle", "filled": true, "size": 24, "strokeWidth": 1, "opacity": 1},
      "encoding": {"x": {"field": "h", "type": "quantitative", "axis": null}, "y": {"field": "v", "type": "quantitative", "axis": null},
       "fill": {"field": "g", "type": "nominal", "scale": {"domain": ["wt", "IFNAR1 ⁻/⁻"], "range": ["#000000", "#ffffff"]}, "legend": {"title": null, "orient": "none", "legendX": 30, "legendY": 74, "symbolType": "M-1,0H-0.28M0.28,0H1M0.28,0A0.28,0.28,0,1,1,-0.28,0A0.28,0.28,0,1,1,0.28,0Z", "symbolSize": 400, "symbolStrokeWidth": 1, "labelFontSize": 14, "labelFontStyle": "italic", "labelOffset": 2, "rowPadding": 2}},
       "stroke": {"field": "g", "type": "nominal", "legend": {"title": null, "orient": "none", "legendX": 30, "legendY": 74, "symbolType": "M-1,0H-0.28M0.28,0H1M0.28,0A0.28,0.28,0,1,1,-0.28,0A0.28,0.28,0,1,1,0.28,0Z", "symbolSize": 400, "symbolStrokeWidth": 1, "labelFontSize": 14, "labelFontStyle": "italic", "labelOffset": 2, "rowPadding": 2}}}},
     {"data": {"name": "c1n"}, "mark": {"type": "text", "baseline": "middle"},
      "encoding": {"x": {"field": "h", "type": "quantitative", "axis": null}, "y": {"field": "y", "type": "quantitative", "axis": null}, "text": {"field": "t", "type": "nominal"}, "size": {"condition": {"test": "datum.t == 'ns'", "value": 16}, "value": 14}}}
    ]},
   {"width": 134, "height": 131,
    "resolve": {"axis": {"x": "independent", "y": "independent"}},
    "layer": [
     {"data": {"name": "c2"}, "mark": {"type": "line", "strokeWidth": 1},
      "encoding": {
       "x": {"field": "h", "type": "quantitative", "scale": {"domain": [0, 75], "nice": false, "zero": false}, "axis": {"orient": "bottom", "values": [0, 8, 24, 48, 72], "labelExpr": "datum.value == 0 ? 'PBS' : datum.label", "labelOffset": {"condition": {"test": "datum.value == 0", "value": -3}, "value": 0}, "title": "hours post infection"}},
       "y": {"field": "v", "type": "quantitative", "scale": {"domain": [0, 250], "nice": false}, "axis": {"orient": "left", "values": [0, 50, 100, 150, 200, 250], "title": "IFN-λ (pg/mL)"}},
       "stroke": {"field": "g", "type": "nominal", "scale": {"domain": ["wt", "IFNAR1 ⁻/⁻"], "range": ["#333333", "#999999"]}, "legend": null},
       "strokeDash": {"field": "g", "type": "nominal", "scale": {"domain": ["wt", "IFNAR1 ⁻/⁻"], "range": [[1, 0], [3, 2]]}, "legend": null}
      }},
     {"data": {"name": "c2"}, "mark": {"type": "rule", "strokeWidth": 1},
      "encoding": {
       "x": {"field": "h", "type": "quantitative", "axis": {"orient": "top", "values": [0, 8, 24, 48, 72], "labels": false, "title": null}},
       "y": {"field": "lo", "type": "quantitative", "axis": {"orient": "right", "values": [0, 50, 100, 150, 200, 250], "labels": false, "title": null}},
       "y2": {"field": "hi"},
       "color": {"condition": {"test": "datum.g == 'wt' || datum.g == 'p65 ⁺/⁺'", "value": "#555555"}, "value": "#aaaaaa"}
      }},
     {"data": {"name": "c2"}, "mark": {"type": "tick", "orient": "horizontal", "size": 6, "thickness": 1},
      "encoding": {"x": {"field": "h", "type": "quantitative", "axis": null}, "y": {"field": "lo", "type": "quantitative", "axis": null}, "color": {"condition": {"test": "datum.g == 'wt' || datum.g == 'p65 ⁺/⁺'", "value": "#555555"}, "value": "#aaaaaa"}}},
     {"data": {"name": "c2"}, "mark": {"type": "tick", "orient": "horizontal", "size": 6, "thickness": 1},
      "encoding": {"x": {"field": "h", "type": "quantitative", "axis": null}, "y": {"field": "hi", "type": "quantitative", "axis": null}, "color": {"condition": {"test": "datum.g == 'wt' || datum.g == 'p65 ⁺/⁺'", "value": "#555555"}, "value": "#aaaaaa"}}},
     {"data": {"name": "c2"}, "mark": {"type": "point", "shape": "circle", "filled": true, "size": 24, "strokeWidth": 1, "opacity": 1},
      "encoding": {"x": {"field": "h", "type": "quantitative", "axis": null}, "y": {"field": "v", "type": "quantitative", "axis": null},
       "fill": {"field": "g", "type": "nominal", "scale": {"domain": ["wt", "IFNAR1 ⁻/⁻"], "range": ["#000000", "#ffffff"]}, "legend": null},
       "stroke": {"field": "g", "type": "nominal", "legend": null}}},
     {"data": {"name": "c2n"}, "mark": {"type": "text", "baseline": "middle"},
      "encoding": {"x": {"field": "h", "type": "quantitative", "axis": null}, "y": {"field": "y", "type": "quantitative", "axis": null}, "text": {"field": "t", "type": "nominal"}, "size": {"condition": {"test": "datum.t == 'ns'", "value": 16}, "value": 14}}}
    ]}
   ], "bounds": "flush", "spacing": 62, "resolve": {"scale": {"fill": "independent", "stroke": "independent", "strokeDash": "independent"}, "legend": {"fill": "independent", "stroke": "independent", "strokeDash": "independent"}}}
  ], "bounds": "flush", "spacing": 0, "resolve": {"scale": {"fill": "independent", "stroke": "independent", "strokeDash": "independent"}, "legend": {"fill": "independent", "stroke": "independent", "strokeDash": "independent"}}},
  {"spacing": 20, "resolve": {"scale": {"fill": "independent", "stroke": "independent", "strokeDash": "independent"}, "legend": {"fill": "independent", "stroke": "independent", "strokeDash": "independent"}}, "vconcat": [
   {"hconcat": [
    {"width": 78, "height": 10, "view": {"stroke": null}, "data": {"name": "none"}, "mark": {"type": "point", "opacity": 0},
     "title": {"text": "D", "orient": "left", "anchor": "end", "angle": 0, "align": "right", "baseline": "top", "frame": "group", "offset": 2, "dy": -34}},
    {"hconcat": [
    {"width": 86, "height": 127,
     "resolve": {"scale": {"x": "independent"}, "axis": {"x": "independent", "y": "independent"}},
     "layer": [
      {"resolve": {"axis": {"y": "independent"}},
       "layer": [
        {"data": {"name": "d1"}, "mark": {"type": "bar", "strokeWidth": 1},
         "encoding": {
          "x": {"field": "bar", "type": "nominal", "scale": {"domain": ["RV1B_1", "RV1B_2", "PBS_1", "PBS_2"], "paddingInner": 0.07, "paddingOuter": 0}, "axis": null},
          "y": {"field": "v", "type": "quantitative", "stack": null, "scale": {"domain": [0, 21000], "nice": false}, "axis": {"orient": "left", "values": [0, 5000, 10000, 15000, 20000], "labelExpr": "datum.value == 0 ? '0' : format(datum.value / pow(10, floor(log(datum.value) / LN10 + 1e-9)), '.1f') + '×10' + ['⁰','¹','²','³','⁴','⁵','⁶'][floor(log(datum.value) / LN10 + 1e-9)]", "labelFontSize": 10, "title": ["COX-2 mRNA copies", "(per μL)"], "titleFontSize": 15, "titleLineHeight": 25, "titlePadding": 2}},
          "fill": {"field": "g", "type": "nominal", "scale": {"domain": ["wt", "IFNAR1-/-"], "range": ["#dcdcdc", "#ffffff"]}, "legend": {"title": null, "orient": "none", "legendX": -34, "legendY": -20, "direction": "horizontal", "symbolType": "M-1,-0.45H1V0.45H-1Z", "symbolSize": 324, "symbolStrokeWidth": 1, "labelFontSize": 11, "labelOffset": 3, "columnPadding": 22}},
          "stroke": {"field": "g", "type": "nominal", "scale": {"domain": ["wt", "IFNAR1-/-"], "range": ["#9a9a9a", "#9a9a9a"]}, "legend": {"title": null, "orient": "none", "legendX": -34, "legendY": -20, "direction": "horizontal", "symbolType": "M-1,-0.45H1V0.45H-1Z", "symbolSize": 324, "symbolStrokeWidth": 1, "labelFontSize": 11, "labelOffset": 3, "columnPadding": 22}}
         }},
        {"data": {"name": "d1"}, "mark": {"type": "rule", "color": "#888888"},
         "encoding": {"x": {"field": "bar", "type": "nominal", "axis": null}, "y": {"field": "v", "type": "quantitative", "axis": {"orient": "right", "values": [0, 5000, 10000, 15000, 20000], "labels": false, "title": null}}, "y2": {"field": "hi"}}},
        {"data": {"name": "d1"}, "mark": {"type": "tick", "orient": "horizontal", "size": 8, "thickness": 1, "color": "#888888"},
         "encoding": {"x": {"field": "bar", "type": "nominal", "axis": null}, "y": {"field": "hi", "type": "quantitative", "axis": null}}}
       ]},
      {"data": {"name": "grp"}, "mark": {"type": "bar", "color": "#333333", "yOffset": 7, "y2Offset": 8.5},
       "encoding": {
        "x": {"field": "cond", "type": "nominal", "scale": {"domain": ["RV1B", "PBS"], "paddingInner": 0.15, "paddingOuter": 0}, "axis": {"orient": "bottom", "title": null, "domain": false, "ticks": false, "tickSize": 0, "labelPadding": 11, "labelFontSize": 11, "labelAngle": 0}},
        "y": {"datum": 0, "type": "quantitative", "axis": null},
        "y2": {"datum": 0}
       }}
     ]},
    {"width": 86, "height": 127,
     "resolve": {"scale": {"x": "independent"}, "axis": {"x": "independent", "y": "independent"}},
     "layer": [
      {"resolve": {"axis": {"y": "independent"}},
       "layer": [
        {"data": {"name": "d2"}, "mark": {"type": "bar", "strokeWidth": 1},
         "encoding": {
          "x": {"field": "bar", "type": "nominal", "scale": {"domain": ["RV1B_1", "RV1B_2", "PBS_1", "PBS_2"], "paddingInner": 0.07, "paddingOuter": 0}, "axis": null},
          "y": {"field": "v", "type": "quantitative", "stack": null, "scale": {"domain": [0, 200000], "nice": false}, "axis": {"orient": "left", "values": [0, 50000, 100000, 150000, 200000], "labelExpr": "datum.value == 0 ? '0' : format(datum.value / pow(10, floor(log(datum.value) / LN10 + 1e-9)), '.1f') + '×10' + ['⁰','¹','²','³','⁴','⁵','⁶'][floor(log(datum.value) / LN10 + 1e-9)]", "labelFontSize": 10, "title": ["Viperin mRNA copies", "(per μL)"], "titleFontSize": 15, "titleLineHeight": 19, "titlePadding": 1}},
          "fill": {"field": "g", "type": "nominal", "scale": {"domain": ["wt", "IFNAR1-/-"], "range": ["#dcdcdc", "#ffffff"]}, "legend": null},
          "stroke": {"field": "g", "type": "nominal", "scale": {"domain": ["wt", "IFNAR1-/-"], "range": ["#9a9a9a", "#9a9a9a"]}, "legend": null}
         }},
        {"data": {"name": "d2"}, "mark": {"type": "rule", "color": "#888888"},
         "encoding": {"x": {"field": "bar", "type": "nominal", "axis": null}, "y": {"field": "v", "type": "quantitative", "axis": {"orient": "right", "values": [0, 50000, 100000, 150000, 200000], "labels": false, "title": null}}, "y2": {"field": "hi"}}},
        {"data": {"name": "d2"}, "mark": {"type": "tick", "orient": "horizontal", "size": 8, "thickness": 1, "color": "#888888"},
         "encoding": {"x": {"field": "bar", "type": "nominal", "axis": null}, "y": {"field": "hi", "type": "quantitative", "axis": null}}},
        {"data": {"name": "d2s"}, "mark": {"type": "rule", "strokeWidth": 1.5, "color": "#222222"},
         "encoding": {"x": {"field": "b1", "type": "nominal", "axis": null}, "x2": {"field": "b2"}, "y": {"field": "y", "type": "quantitative", "axis": null}}},
        {"data": {"name": "d2s"}, "mark": {"type": "text", "fontSize": 14, "baseline": "middle"},
         "encoding": {"x": {"field": "b2", "type": "nominal", "bandPosition": 0, "axis": null}, "y": {"field": "ys", "type": "quantitative", "axis": null}, "text": {"field": "t", "type": "nominal"}}}
       ]},
      {"data": {"name": "grp"}, "mark": {"type": "bar", "color": "#333333", "yOffset": 7, "y2Offset": 8.5},
       "encoding": {
        "x": {"field": "cond", "type": "nominal", "scale": {"domain": ["RV1B", "PBS"], "paddingInner": 0.15, "paddingOuter": 0}, "axis": {"orient": "bottom", "title": null, "domain": false, "ticks": false, "tickSize": 0, "labelPadding": 11, "labelFontSize": 11, "labelAngle": 0}},
        "y": {"datum": 0, "type": "quantitative", "axis": null},
        "y2": {"datum": 0}
       }}
     ]},
    {"width": 88, "height": 127,
     "resolve": {"scale": {"x": "independent"}, "axis": {"x": "independent", "y": "independent"}},
     "layer": [
      {"resolve": {"axis": {"y": "independent"}},
       "layer": [
        {"data": {"name": "d3"}, "mark": {"type": "bar", "strokeWidth": 1},
         "encoding": {
          "x": {"field": "bar", "type": "nominal", "scale": {"domain": ["RV1B_1", "RV1B_2", "PBS_1", "PBS_2"], "paddingInner": 0.07, "paddingOuter": 0}, "axis": null},
          "y": {"field": "v", "type": "quantitative", "stack": null, "scale": {"domain": [0, 300000], "nice": false}, "axis": {"orient": "left", "values": [0, 100000, 200000, 300000], "labelExpr": "datum.value == 0 ? '0' : format(datum.value / pow(10, floor(log(datum.value) / LN10 + 1e-9)), '.1f') + '×10' + ['⁰','¹','²','³','⁴','⁵','⁶'][floor(log(datum.value) / LN10 + 1e-9)]", "labelFontSize": 10, "title": ["PKR mRNA copies", "(per μL)"], "titleFontSize": 15, "titleLineHeight": 25, "titlePadding": 2}},
          "fill": {"field": "g", "type": "nominal", "scale": {"domain": ["wt", "IFNAR1-/-"], "range": ["#dcdcdc", "#ffffff"]}, "legend": null},
          "stroke": {"field": "g", "type": "nominal", "scale": {"domain": ["wt", "IFNAR1-/-"], "range": ["#9a9a9a", "#9a9a9a"]}, "legend": null}
         }},
        {"data": {"name": "d3"}, "mark": {"type": "rule", "color": "#888888"},
         "encoding": {"x": {"field": "bar", "type": "nominal", "axis": null}, "y": {"field": "v", "type": "quantitative", "axis": {"orient": "right", "values": [0, 100000, 200000, 300000], "labels": false, "title": null}}, "y2": {"field": "hi"}}},
        {"data": {"name": "d3"}, "mark": {"type": "tick", "orient": "horizontal", "size": 8, "thickness": 1, "color": "#888888"},
         "encoding": {"x": {"field": "bar", "type": "nominal", "axis": null}, "y": {"field": "hi", "type": "quantitative", "axis": null}}},
        {"data": {"name": "d3s"}, "mark": {"type": "rule", "strokeWidth": 1.5, "color": "#222222"},
         "encoding": {"x": {"field": "b1", "type": "nominal", "axis": null}, "x2": {"field": "b2"}, "y": {"field": "y", "type": "quantitative", "axis": null}}},
        {"data": {"name": "d3s"}, "mark": {"type": "text", "fontSize": 14, "baseline": "middle"},
         "encoding": {"x": {"field": "b2", "type": "nominal", "bandPosition": 0, "axis": null}, "y": {"field": "ys", "type": "quantitative", "axis": null}, "text": {"field": "t", "type": "nominal"}}}
       ]},
      {"data": {"name": "grp"}, "mark": {"type": "bar", "color": "#333333", "yOffset": 7, "y2Offset": 8.5},
       "encoding": {
        "x": {"field": "cond", "type": "nominal", "scale": {"domain": ["RV1B", "PBS"], "paddingInner": 0.15, "paddingOuter": 0}, "axis": {"orient": "bottom", "title": null, "domain": false, "ticks": false, "tickSize": 0, "labelPadding": 11, "labelFontSize": 11, "labelAngle": 0}},
        "y": {"datum": 0, "type": "quantitative", "axis": null},
        "y2": {"datum": 0}
       }}
     ]},
    {"width": 86, "height": 127,
     "resolve": {"scale": {"x": "independent"}, "axis": {"x": "independent", "y": "independent"}},
     "layer": [
      {"resolve": {"axis": {"y": "independent"}},
       "layer": [
        {"data": {"name": "d4"}, "mark": {"type": "bar", "strokeWidth": 1},
         "encoding": {
          "x": {"field": "bar", "type": "nominal", "scale": {"domain": ["RV1B_1", "RV1B_2", "PBS_1", "PBS_2"], "paddingInner": 0.07, "paddingOuter": 0}, "axis": null},
          "y": {"field": "v", "type": "quantitative", "stack": null, "scale": {"domain": [0, 1000], "nice": false}, "axis": {"orient": "left", "values": [0, 250, 500, 750, 1000], "labelExpr": "datum.value == 0 ? '0' : format(datum.value / pow(10, floor(log(datum.value) / LN10 + 1e-9)), '.1f') + '×10' + ['⁰','¹','²','³','⁴','⁵','⁶'][floor(log(datum.value) / LN10 + 1e-9)]", "labelFontSize": 10, "title": ["OAS1A mRNA copies", "(per μL)"], "titleFontSize": 15, "titleLineHeight": 20, "titlePadding": 1}},
          "fill": {"field": "g", "type": "nominal", "scale": {"domain": ["wt", "IFNAR1-/-"], "range": ["#dcdcdc", "#ffffff"]}, "legend": null},
          "stroke": {"field": "g", "type": "nominal", "scale": {"domain": ["wt", "IFNAR1-/-"], "range": ["#9a9a9a", "#9a9a9a"]}, "legend": null}
         }},
        {"data": {"name": "d4"}, "mark": {"type": "rule", "color": "#888888"},
         "encoding": {"x": {"field": "bar", "type": "nominal", "axis": null}, "y": {"field": "v", "type": "quantitative", "axis": {"orient": "right", "values": [0, 250, 500, 750, 1000], "labels": false, "title": null}}, "y2": {"field": "hi"}}},
        {"data": {"name": "d4"}, "mark": {"type": "tick", "orient": "horizontal", "size": 8, "thickness": 1, "color": "#888888"},
         "encoding": {"x": {"field": "bar", "type": "nominal", "axis": null}, "y": {"field": "hi", "type": "quantitative", "axis": null}}},
        {"data": {"name": "d4s"}, "mark": {"type": "rule", "strokeWidth": 1.5, "color": "#222222"},
         "encoding": {"x": {"field": "b1", "type": "nominal", "axis": null}, "x2": {"field": "b2"}, "y": {"field": "y", "type": "quantitative", "axis": null}}},
        {"data": {"name": "d4s"}, "mark": {"type": "text", "fontSize": 14, "baseline": "middle"},
         "encoding": {"x": {"field": "b2", "type": "nominal", "bandPosition": 0, "axis": null}, "y": {"field": "ys", "type": "quantitative", "axis": null}, "text": {"field": "t", "type": "nominal"}}}
       ]},
      {"data": {"name": "grp"}, "mark": {"type": "bar", "color": "#333333", "yOffset": 7, "y2Offset": 8.5},
       "encoding": {
        "x": {"field": "cond", "type": "nominal", "scale": {"domain": ["RV1B", "PBS"], "paddingInner": 0.15, "paddingOuter": 0}, "axis": {"orient": "bottom", "title": null, "domain": false, "ticks": false, "tickSize": 0, "labelPadding": 11, "labelFontSize": 11, "labelAngle": 0}},
        "y": {"datum": 0, "type": "quantitative", "axis": null},
        "y2": {"datum": 0}
       }}
     ]}
    ], "bounds": "flush", "spacing": 108, "resolve": {"scale": {"fill": "independent", "stroke": "independent", "strokeDash": "independent"}, "legend": {"fill": "independent", "stroke": "independent", "strokeDash": "independent"}}}
   ], "bounds": "flush", "spacing": 0, "resolve": {"scale": {"fill": "independent", "stroke": "independent", "strokeDash": "independent"}, "legend": {"fill": "independent", "stroke": "independent", "strokeDash": "independent"}}},
   {"hconcat": [
    {"width": 88, "height": 10, "view": {"stroke": null}, "data": {"name": "none"}, "mark": {"type": "point", "opacity": 0},
     "title": {"text": "E", "orient": "left", "anchor": "end", "angle": 0, "align": "right", "baseline": "top", "frame": "group", "offset": 2, "dy": -19}},
    {"hconcat": [
    {"width": 138, "height": 132,
     "resolve": {"axis": {"x": "independent", "y": "independent"}},
     "layer": [
      {"data": {"name": "e1"}, "mark": {"type": "line", "strokeWidth": 1},
       "encoding": {
        "x": {"field": "h", "type": "quantitative", "scale": {"domain": [-2, 76], "nice": false, "zero": false}, "axis": {"orient": "bottom", "values": [8, 24, 48, 72], "title": "hours post infection"}},
        "y": {"field": "v", "type": "quantitative", "scale": {"domain": [0, 200000], "nice": false}, "axis": {"orient": "left", "values": [0, 50000, 100000, 150000, 200000], "labelExpr": "datum.value == 0 ? '0' : format(datum.value / pow(10, floor(log(datum.value) / LN10 + 1e-9)), '.1f') + '×10' + ['⁰','¹','²','³','⁴','⁵','⁶'][floor(log(datum.value) / LN10 + 1e-9)]", "labelFontSize": 10, "title": ["RV vRNA copies", "(per μL)"], "titleFontSize": 15, "titleLineHeight": 29, "titlePadding": 2}},
        "stroke": {"field": "g", "type": "nominal", "scale": {"domain": ["p65 ⁺/⁺", "p65 ⁺/⁻"], "range": ["#333333", "#999999"]}, "legend": {"title": null, "orient": "none", "legendX": 48, "legendY": 8, "symbolType": "M-1,0H-0.3M0.3,0H1M-0.3,-0.3H0.3V0.3H-0.3Z", "symbolSize": 400, "symbolStrokeWidth": 1, "labelFontSize": 14, "labelFontStyle": "italic", "labelOffset": 2, "rowPadding": 5}},
        "strokeDash": {"field": "g", "type": "nominal", "scale": {"domain": ["p65 ⁺/⁺", "p65 ⁺/⁻"], "range": [[1, 0], [3, 2]]}, "legend": {"title": null, "orient": "none", "legendX": 48, "legendY": 8, "symbolType": "M-1,0H-0.3M0.3,0H1M-0.3,-0.3H0.3V0.3H-0.3Z", "symbolSize": 400, "symbolStrokeWidth": 1, "labelFontSize": 14, "labelFontStyle": "italic", "labelOffset": 2, "rowPadding": 5}}
       }},
      {"data": {"name": "e1"}, "mark": {"type": "rule", "strokeWidth": 1},
       "encoding": {
        "x": {"field": "h", "type": "quantitative", "axis": {"orient": "top", "values": [8, 24, 48, 72], "labels": false, "title": null}},
        "y": {"field": "lo", "type": "quantitative", "axis": {"orient": "right", "values": [0, 50000, 100000, 150000, 200000], "labels": false, "title": null}},
        "y2": {"field": "hi"},
        "color": {"condition": {"test": "datum.g == 'wt' || datum.g == 'p65 ⁺/⁺'", "value": "#555555"}, "value": "#aaaaaa"}
       }},
      {"data": {"name": "e1"}, "mark": {"type": "tick", "orient": "horizontal", "size": 6, "thickness": 1},
       "encoding": {"x": {"field": "h", "type": "quantitative", "axis": null}, "y": {"field": "lo", "type": "quantitative", "axis": null}, "color": {"condition": {"test": "datum.g == 'wt' || datum.g == 'p65 ⁺/⁺'", "value": "#555555"}, "value": "#aaaaaa"}}},
      {"data": {"name": "e1"}, "mark": {"type": "tick", "orient": "horizontal", "size": 6, "thickness": 1},
       "encoding": {"x": {"field": "h", "type": "quantitative", "axis": null}, "y": {"field": "hi", "type": "quantitative", "axis": null}, "color": {"condition": {"test": "datum.g == 'wt' || datum.g == 'p65 ⁺/⁺'", "value": "#555555"}, "value": "#aaaaaa"}}},
      {"data": {"name": "e1"}, "mark": {"type": "point", "shape": "square", "filled": true, "size": 30, "strokeWidth": 1, "opacity": 1},
       "encoding": {"x": {"field": "h", "type": "quantitative", "axis": null}, "y": {"field": "v", "type": "quantitative", "axis": null},
        "fill": {"field": "g", "type": "nominal", "scale": {"domain": ["p65 ⁺/⁺", "p65 ⁺/⁻"], "range": ["#000000", "#ffffff"]}, "legend": {"title": null, "orient": "none", "legendX": 48, "legendY": 8, "symbolType": "M-1,0H-0.3M0.3,0H1M-0.3,-0.3H0.3V0.3H-0.3Z", "symbolSize": 400, "symbolStrokeWidth": 1, "labelFontSize": 14, "labelFontStyle": "italic", "labelOffset": 2, "rowPadding": 5}},
        "stroke": {"field": "g", "type": "nominal", "legend": {"title": null, "orient": "none", "legendX": 48, "legendY": 8, "symbolType": "M-1,0H-0.3M0.3,0H1M-0.3,-0.3H0.3V0.3H-0.3Z", "symbolSize": 400, "symbolStrokeWidth": 1, "labelFontSize": 14, "labelFontStyle": "italic", "labelOffset": 2, "rowPadding": 5}}}}
     ]},
    {"width": 135, "height": 132,
     "resolve": {"axis": {"x": "independent", "y": "independent"}},
     "layer": [
      {"data": {"name": "e2"}, "mark": {"type": "line", "strokeWidth": 1},
       "encoding": {
        "x": {"field": "h", "type": "quantitative", "scale": {"domain": [0, 75.5], "nice": false, "zero": false}, "axis": {"orient": "bottom", "values": [8, 24, 48, 72], "title": "hours post infection"}},
        "y": {"field": "v", "type": "quantitative", "scale": {"domain": [0, 400000], "nice": false}, "axis": {"orient": "left", "values": [0, 100000, 200000, 300000, 400000], "labelExpr": "datum.value == 0 ? '0' : format(datum.value / pow(10, floor(log(datum.value) / LN10 + 1e-9)), '.1f') + '×10' + ['⁰','¹','²','³','⁴','⁵','⁶'][floor(log(datum.value) / LN10 + 1e-9)]", "labelFontSize": 10, "title": ["RV vRNA copies", "(per μL)"], "titleFontSize": 15, "titleLineHeight": 29, "titlePadding": 2}},
        "stroke": {"field": "g", "type": "nominal", "scale": {"domain": ["wt", "IFNAR1 ⁻/⁻"], "range": ["#333333", "#999999"]}, "legend": {"title": null, "orient": "none", "legendX": 53, "legendY": 6, "symbolType": "M-1,0H-0.28M0.28,0H1M0.28,0A0.28,0.28,0,1,1,-0.28,0A0.28,0.28,0,1,1,0.28,0Z", "symbolSize": 400, "symbolStrokeWidth": 1, "labelFontSize": 14, "labelFontStyle": "italic", "labelOffset": 2, "rowPadding": 4}},
        "strokeDash": {"field": "g", "type": "nominal", "scale": {"domain": ["wt", "IFNAR1 ⁻/⁻"], "range": [[1, 0], [3, 2]]}, "legend": {"title": null, "orient": "none", "legendX": 53, "legendY": 6, "symbolType": "M-1,0H-0.28M0.28,0H1M0.28,0A0.28,0.28,0,1,1,-0.28,0A0.28,0.28,0,1,1,0.28,0Z", "symbolSize": 400, "symbolStrokeWidth": 1, "labelFontSize": 14, "labelFontStyle": "italic", "labelOffset": 2, "rowPadding": 4}}
       }},
      {"data": {"name": "e2"}, "mark": {"type": "rule", "strokeWidth": 1},
       "encoding": {
        "x": {"field": "h", "type": "quantitative", "axis": {"orient": "top", "values": [8, 24, 48, 72], "labels": false, "title": null}},
        "y": {"field": "lo", "type": "quantitative", "axis": {"orient": "right", "values": [0, 100000, 200000, 300000, 400000], "labels": false, "title": null}},
        "y2": {"field": "hi"},
        "color": {"condition": {"test": "datum.g == 'wt' || datum.g == 'p65 ⁺/⁺'", "value": "#555555"}, "value": "#aaaaaa"}
       }},
      {"data": {"name": "e2"}, "mark": {"type": "tick", "orient": "horizontal", "size": 6, "thickness": 1},
       "encoding": {"x": {"field": "h", "type": "quantitative", "axis": null}, "y": {"field": "lo", "type": "quantitative", "axis": null}, "color": {"condition": {"test": "datum.g == 'wt' || datum.g == 'p65 ⁺/⁺'", "value": "#555555"}, "value": "#aaaaaa"}}},
      {"data": {"name": "e2"}, "mark": {"type": "tick", "orient": "horizontal", "size": 6, "thickness": 1},
       "encoding": {"x": {"field": "h", "type": "quantitative", "axis": null}, "y": {"field": "hi", "type": "quantitative", "axis": null}, "color": {"condition": {"test": "datum.g == 'wt' || datum.g == 'p65 ⁺/⁺'", "value": "#555555"}, "value": "#aaaaaa"}}},
      {"data": {"name": "e2"}, "mark": {"type": "point", "shape": "circle", "filled": true, "size": 24, "strokeWidth": 1, "opacity": 1},
       "encoding": {"x": {"field": "h", "type": "quantitative", "axis": null}, "y": {"field": "v", "type": "quantitative", "axis": null},
        "fill": {"field": "g", "type": "nominal", "scale": {"domain": ["wt", "IFNAR1 ⁻/⁻"], "range": ["#000000", "#ffffff"]}, "legend": {"title": null, "orient": "none", "legendX": 53, "legendY": 6, "symbolType": "M-1,0H-0.28M0.28,0H1M0.28,0A0.28,0.28,0,1,1,-0.28,0A0.28,0.28,0,1,1,0.28,0Z", "symbolSize": 400, "symbolStrokeWidth": 1, "labelFontSize": 14, "labelFontStyle": "italic", "labelOffset": 2, "rowPadding": 4}},
        "stroke": {"field": "g", "type": "nominal", "legend": {"title": null, "orient": "none", "legendX": 53, "legendY": 6, "symbolType": "M-1,0H-0.28M0.28,0H1M0.28,0A0.28,0.28,0,1,1,-0.28,0A0.28,0.28,0,1,1,0.28,0Z", "symbolSize": 400, "symbolStrokeWidth": 1, "labelFontSize": 14, "labelFontStyle": "italic", "labelOffset": 2, "rowPadding": 4}}}},
      {"data": {"name": "e2n"}, "mark": {"type": "text", "baseline": "middle"},
       "encoding": {"x": {"field": "h", "type": "quantitative", "axis": null}, "y": {"field": "y", "type": "quantitative", "axis": null}, "text": {"field": "t", "type": "nominal"}, "size": {"condition": {"test": "datum.t == 'ns'", "value": 16}, "value": 14}}}
     ]}
    ], "bounds": "flush", "spacing": 105, "resolve": {"scale": {"fill": "independent", "stroke": "independent", "strokeDash": "independent"}, "legend": {"fill": "independent", "stroke": "independent", "strokeDash": "independent"}}}
   ], "bounds": "flush", "spacing": 0, "resolve": {"scale": {"fill": "independent", "stroke": "independent", "strokeDash": "independent"}, "legend": {"fill": "independent", "stroke": "independent", "strokeDash": "independent"}}}
  ]}
 ]}
]}
]
}
